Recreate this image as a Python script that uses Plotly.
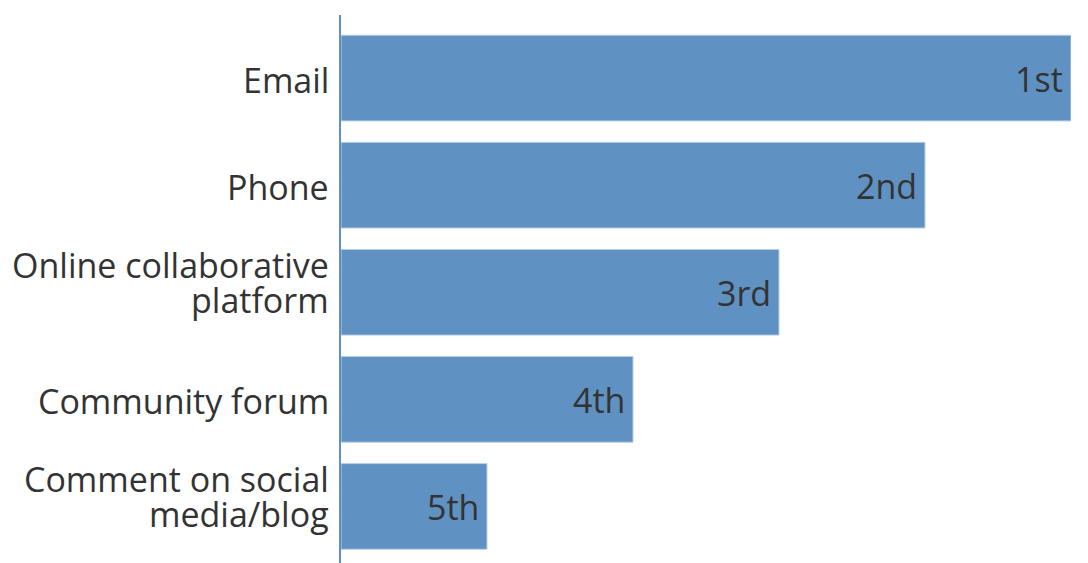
import plotly.graph_objects as go

categories = ["Email", "Phone", "Online collaborative<br>platform", "Community forum", "Comment on social<br>media/blog"]
values = [5, 4, 3, 2, 1]
rank_labels = ["1st", "2nd", "3rd", "4th", "5th"]

FONT = "Open Sans"
BAR = "#5f91c2"
TXT = "#333333"
SIZE = 34
LINE_GAP = 35

fig = go.Figure(go.Bar(
    x=values,
    y=categories,
    orientation="h",
    marker=dict(color=BAR, line=dict(color="#b9cfe6", width=1)),
    width=0.8,
    hoverinfo="skip",
))

# rank labels inside bar ends
for v, c, r in zip(values, categories, rank_labels):
    fig.add_annotation(
        x=v, y=c, text=r, showarrow=False,
        xanchor="right", yanchor="middle", xshift=-6, yshift=-1,
        font=dict(family=FONT, size=SIZE, color=TXT),
    )

# category labels (one annotation per line for tighter line spacing)
for c in categories:
    lines = c.split("<br>")
    n = len(lines)
    for i, line in enumerate(lines):
        off = ((n - 1) / 2 - i) * LINE_GAP
        fig.add_annotation(
            xref="paper", x=0, y=c, text=line, showarrow=False,
            xanchor="right", yanchor="middle", xshift=-10,
            yshift=off + (10 if n > 1 else -2),
            font=dict(family=FONT, size=SIZE, color=TXT),
        )

fig.update_layout(
    width=1080,
    height=555,
    margin=dict(l=333, r=17, t=7, b=0, autoexpand=False),
    plot_bgcolor="white",
    paper_bgcolor="white",
    showlegend=False,
    font=dict(family=FONT, size=SIZE, color=TXT),
    xaxis=dict(range=[0, 5], visible=False, fixedrange=True, automargin=False),
    yaxis=dict(
        range=[4.528, -0.589],
        automargin=False,
        showline=True,
        linecolor=BAR,
        linewidth=2,
        showticklabels=False,
        ticks="",
        showgrid=False,
        zeroline=False,
    ),
)

fig.write_html("out.html")
